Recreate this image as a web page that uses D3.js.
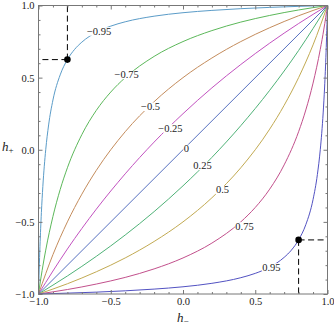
<!DOCTYPE html>
<html>
<head>
<meta charset="utf-8">
<script src="https://cdn.jsdelivr.net/npm/d3@7"></script>
<style>
  body { margin: 0; background: #fff; }
  svg text { font-family: "Liberation Serif", "Times New Roman", serif; }
</style>
</head>
<body>
<svg id="chart" width="334" height="327"></svg>
<script>
// contour levels and their labels
const levels = [-0.95, -0.75, -0.5, -0.25, 0, 0.25, 0.5, 0.75, 0.95];
const levelLabels = ['−0.95', '−0.75', '−0.5', '−0.25', '0', '0.25', '0.5', '0.75', '0.95'];
const levelColors = ['#5b9cc8', '#5cb85a', '#c48c5c', '#c252c0', '#5670c0',
                     '#4fb277', '#c2aa52', '#c2508c', '#5252c2'];

// [h-, h+] points
const curveM095 = [[-1,-1],[-0.99,-0.672],[-0.98,-0.435],[-0.97,-0.255],[-0.96,-0.114],[-0.95,0],
  [-0.93,0.172],[-0.9,0.345],[-0.85,0.519],[-0.8,0.625],[-0.75,0.696],[-0.7,0.746],[-0.6,0.814],
  [-0.5,0.857],[-0.4,0.887],[-0.2,0.926],[0,0.95],[0.2,0.966],[0.4,0.978],[0.6,0.987],[0.8,0.994],[1,1]];
const curveM075 = [[-1,-1],[-0.975,-0.837],[-0.95,-0.696],[-0.9,-0.462],[-0.85,-0.276],[-0.8,-0.125],
  [-0.7,0.105],[-0.6,0.273],[-0.5,0.4],[-0.4,0.5],[-0.2,0.647],[0,0.75],[0.2,0.826],[0.4,0.885],
  [0.6,0.931],[0.8,0.969],[1,1]];
const curveM050 = [[-1,-1],[-0.9,-0.727],[-0.8,-0.5],[-0.7,-0.308],[-0.6,-0.143],[-0.4,0.125],
  [-0.2,0.333],[0,0.5],[0.2,0.636],[0.4,0.75],[0.6,0.846],[0.8,0.929],[1,1]];
const curveM025 = [[-1,-1],[-0.8,-0.688],[-0.6,-0.412],[-0.4,-0.167],[-0.2,0.053],[0,0.25],
  [0.2,0.429],[0.4,0.591],[0.6,0.739],[0.8,0.875],[1,1]];
const curve000 = [[-1,-1],[0,0],[1,1]];
const curveP025 = [[-1,-1],[-0.8,-0.875],[-0.6,-0.739],[-0.4,-0.591],[-0.2,-0.429],[0,-0.25],
  [0.2,-0.053],[0.4,0.167],[0.6,0.412],[0.8,0.688],[1,1]];
const curveP050 = [[-1,-1],[-0.8,-0.929],[-0.6,-0.846],[-0.4,-0.75],[-0.2,-0.636],[0,-0.5],
  [0.2,-0.333],[0.4,-0.125],[0.6,0.143],[0.7,0.308],[0.8,0.5],[0.9,0.727],[1,1]];
const curveP075 = [[-1,-1],[-0.8,-0.969],[-0.6,-0.931],[-0.4,-0.885],[-0.2,-0.826],[0,-0.75],
  [0.2,-0.647],[0.4,-0.5],[0.5,-0.4],[0.6,-0.273],[0.7,-0.105],[0.8,0.125],[0.85,0.276],
  [0.9,0.462],[0.95,0.696],[0.975,0.837],[1,1]];
const curveP095 = [[-1,-1],[-0.8,-0.994],[-0.6,-0.987],[-0.4,-0.978],[-0.2,-0.966],[0,-0.95],
  [0.2,-0.926],[0.4,-0.887],[0.5,-0.857],[0.6,-0.814],[0.7,-0.746],[0.75,-0.696],[0.8,-0.625],
  [0.85,-0.519],[0.9,-0.345],[0.93,-0.172],[0.95,0],[0.96,0.114],[0.97,0.255],[0.98,0.435],
  [0.99,0.672],[1,1]];
const curves = [curveM095, curveM075, curveM050, curveM025, curve000,
                curveP025, curveP050, curveP075, curveP095];

// where each contour label sits, [h-, h+]
const labelPos = [[-0.581,0.823],[-0.39,0.522],[-0.225,0.301],[-0.087,0.151],[0.024,0.009],
                  [0.135,-0.109],[0.273,-0.276],[0.426,-0.529],[0.612,-0.813]];

// marked points and the edges their dashed guides run to
const markH = [-0.8, 0.8];
const markV = [0.625, -0.625];
const markEdgeH = [-1, 1];
const markEdgeV = [1, -1];

const majorTicks = [-1, -0.5, 0, 0.5, 1];
const minorTicks = [-0.9,-0.8,-0.7,-0.6,-0.4,-0.3,-0.2,-0.1,0.1,0.2,0.3,0.4,0.6,0.7,0.8,0.9];

const svg = d3.select('#chart');
const frame = {left: 38.5, right: 327.5, top: 5.5, bottom: 294};

const x = d3.scaleLinear().domain([-1, 1]).range([frame.left, frame.right]);
const y = d3.scaleLinear().domain([-1, 1]).range([frame.bottom, frame.top]);

const line = d3.line()
    .x(d => x(d[0]))
    .y(d => y(d[1]))
    .curve(d3.curveMonotoneX);

// contours
svg.append('g')
  .selectAll('path')
  .data(curves)
  .join('path')
    .attr('d', line)
    .attr('fill', 'none')
    .attr('stroke', (d, i) => levelColors[i])
    .attr('stroke-width', 1);

// contour labels with white backing
const labels = svg.append('g')
  .selectAll('g')
  .data(levels)
  .join('g')
    .attr('transform', (d, i) => `translate(${x(labelPos[i][0])},${y(labelPos[i][1])})`);

labels.append('rect').attr('fill', '#fff');
labels.append('text')
    .attr('text-anchor', 'middle')
    .attr('dy', '0.35em')
    .attr('font-size', 10.5)
    .attr('fill', '#222')
    .text((d, i) => levelLabels[i]);

labels.each(function() {
  const g = d3.select(this);
  const b = g.select('text').node().getBBox();
  g.select('rect')
      .attr('x', b.x - 0.5).attr('y', b.y + 1.5)
      .attr('width', b.width + 1).attr('height', b.height - 2.5);
});

// dashed guides
const guides = svg.append('g')
    .attr('stroke', '#000')
    .attr('stroke-width', 1)
    .attr('stroke-dasharray', '6,3.5');

guides.selectAll('line.h')
  .data(markH)
  .join('line')
    .attr('class', 'h')
    .attr('x1', (d, i) => x(d)).attr('y1', (d, i) => y(markV[i]))
    .attr('x2', (d, i) => x(markEdgeH[i])).attr('y2', (d, i) => y(markV[i]));

guides.selectAll('line.v')
  .data(markH)
  .join('line')
    .attr('class', 'v')
    .attr('x1', (d, i) => x(d)).attr('y1', (d, i) => y(markV[i]))
    .attr('x2', (d, i) => x(d)).attr('y2', (d, i) => y(markEdgeV[i]));

svg.append('g')
  .selectAll('circle')
  .data(markH)
  .join('circle')
    .attr('cx', d => x(d))
    .attr('cy', (d, i) => y(markV[i]))
    .attr('r', 3.3)
    .attr('fill', '#000');

// frame with inward ticks
const fmt = d3.format('.1f');

function frameAxis(axis, scale, values, size, labelled) {
  return axis(scale)
    .tickValues(values)
    .tickSize(-size)
    .tickPadding(labelled ? 4 : 0)
    .tickFormat(labelled ? fmt : '');
}

function drawAxis(axis, translate, labelled) {
  [[majorTicks, 4, labelled], [minorTicks, 2, false]].forEach(([vals, size, lab]) => {
    const sc = (axis === d3.axisBottom || axis === d3.axisTop) ? x : y;
    const g = svg.append('g')
        .attr('transform', translate)
        .call(frameAxis(axis, sc, vals, size, lab));
    g.select('.domain').remove();
    g.selectAll('line').attr('stroke', '#777');
    g.selectAll('text')
        .attr('font-family', '"Liberation Serif", "Times New Roman", serif')
        .attr('font-size', 10.5)
        .attr('fill', '#222');
  });
}

drawAxis(d3.axisBottom, `translate(0,${frame.bottom})`, true);
drawAxis(d3.axisLeft, `translate(${frame.left},0)`, true);
drawAxis(d3.axisTop, `translate(0,${frame.top})`, false);
drawAxis(d3.axisRight, `translate(${frame.right},0)`, false);

svg.append('rect')
    .attr('x', frame.left).attr('y', frame.top)
    .attr('width', frame.right - frame.left).attr('height', frame.bottom - frame.top)
    .attr('fill', 'none')
    .attr('stroke', '#777')
    .attr('stroke-width', 1);

// axis titles
const yTitle = svg.append('text')
    .attr('x', 2).attr('y', 151)
    .attr('font-size', 13)
    .attr('fill', '#222');
yTitle.append('tspan').attr('font-style', 'italic').text('h');
yTitle.append('tspan').attr('font-size', 9).attr('dy', 2).text('+');

const xTitle = svg.append('text')
    .attr('x', 177).attr('y', 322)
    .attr('font-size', 13)
    .attr('fill', '#222');
xTitle.append('tspan').attr('font-style', 'italic').text('h');
xTitle.append('tspan').attr('font-size', 9).attr('dy', 2).text('−');
</script>
</body>
</html>
